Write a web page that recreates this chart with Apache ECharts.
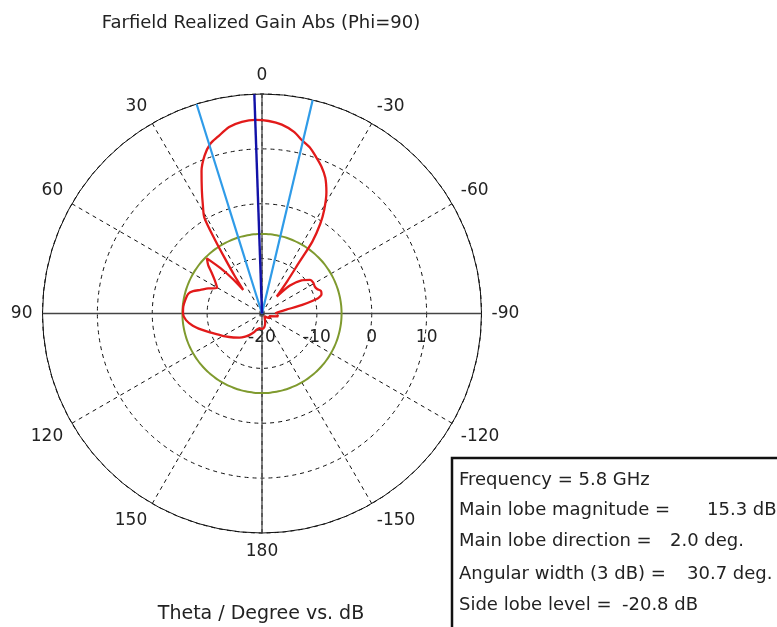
<!DOCTYPE html>
<html><head><meta charset="utf-8">
<script src="https://cdn.jsdelivr.net/npm/echarts@6/dist/echarts.min.js"></script>
<style>html,body{margin:0;padding:0;background:#fff}#c{width:777px;height:627px}</style>
</head><body><div id="c"></div>
<script>
// Farfield realized gain (Phi=90) — theta in degrees, gain in dB
const thetaDeg = [-180,-170,-160,-150,-140,-130,-120,-110,-100,-95,-90,-85,-81,-78,-75,-72,-69,-66,-63,-59,-55,-50,-45,-41,-38,-36,-35,-33,-31,-28,-25,-22,-19,-16,-13,-10,-6,-2,2,6,10,14,17,20,23,26,28.5,31,32.5,34,36,38.5,40.5,42.5,45,48,51,55,60.5,65,69,72,75,80,85,90,95,100,105,110,116,122,130,137,144,150,156,162,170,180];
const gainDb   = [-17.2,-17.5,-18.3,-19.0,-19.3,-19.0,-18.3,-18.6,-17.0,-17.3,-17.6,-17.0,-15.5,-12.5,-9.5,-8.6,-8.5,-9.0,-9.2,-9.1,-9.3,-10.6,-12.8,-15.9,-12.5,-8.5,-4.0,-0.5,2.0,5.0,7.3,8.9,10.2,11.5,12.4,13.6,14.6,15.1,15.3,15.1,14.5,13.2,12.3,10.6,8.2,5.0,2.6,0.4,-4.0,-8.0,-11.5,-14.5,-11.5,-8.8,-5.8,-6.8,-8.2,-9.5,-10.6,-9.2,-8.0,-6.8,-6.1,-5.8,-5.6,-5.6,-6.1,-7.2,-8.6,-9.9,-11.2,-12.1,-13.2,-14.0,-14.8,-15.5,-16.2,-16.9,-17.3,-17.2];
const angleTicks = [0,30,60,90,120,150,180,-150,-120,-90,-60,-30];
const radiusTicks = [-20,-10,0,10,20];
const frequencyGHz = 5.8;
const mainLobeMagnitude = 15.3;   // dB
const mainLobeDirection = 2.0;    // deg
const angularWidth3dB = 30.7;     // deg
const sideLobeLevel = -20.8;      // dB (relative)

const rMin = radiusTicks[0], rMax = radiusTicks[radiusTicks.length - 1];
const toAxis = t => (t < -90 ? t + 360 : t);
const pattern = thetaDeg.map((t, i) => [gainDb[i], toAxis(t)]).sort((a, b) => a[1] - b[1]);
const sllAbs = mainLobeMagnitude + sideLobeLevel;
const circle = [];
for (let a = -90; a <= 270; a += 3) circle.push([sllAbs, a]);
const ray = a => [[rMin, toAxis(a)], [rMax, toAxis(a)]];

const FONT = 'DejaVu Sans';
const chart = echarts.init(document.getElementById('c'));
const lineS = (data, color, width, z) => ({type: 'line', coordinateSystem: 'polar', data, symbol: 'none', silent: true, animation: false, z, lineStyle: {color, width}});
const txt = (x, y, text) => ({type: 'text', x, y, z: 11, style: {text, font: '18px ' + FONT, fill: '#222', textVerticalAlign: 'middle'}});

chart.setOption({
  animation: false,
  backgroundColor: '#fff',
  title: [
    {text: 'Farfield Realized Gain Abs (Phi=90)', left: 256, top: 9, textAlign: 'center', textStyle: {fontFamily: FONT, fontSize: 18, fontWeight: 'normal', color: '#222'}},
    {text: 'Theta / Degree vs. dB', left: 256, top: 600, textAlign: 'center', textStyle: {fontFamily: FONT, fontSize: 19, fontWeight: 'normal', color: '#222'}}
  ],
  polar: {center: [262, 313.5], radius: 219.5},
  angleAxis: {
    type: 'value', min: -90, max: 270, interval: 30, startAngle: 0, clockwise: false,
    axisLine: {lineStyle: {color: '#111', width: 1}},
    axisTick: {show: false},
    axisLabel: {margin: 10, fontFamily: FONT, fontSize: 17, color: '#222',
      formatter: v => { if (v === 270) return ''; const t = v > 180 ? v - 360 : v; return angleTicks.includes(t) ? String(t) : ''; }},
    splitLine: {lineStyle: {color: '#111', width: 1, type: [4, 4]}}
  },
  radiusAxis: {
    type: 'value', min: rMin, max: rMax, interval: 10,
    axisLine: {show: false}, axisTick: {show: false},
    axisLabel: {margin: -24, verticalAlign: 'middle', align: 'center', fontFamily: FONT, fontSize: 17, color: '#222',
      formatter: v => (v === rMax ? '' : String(v))},
    splitLine: {lineStyle: {color: '#111', width: 1, type: [4, 4]}}
  },
  series: [
    lineS([[rMax, -90], [rMax, 90]], '#444', 1.3, 1),
    lineS([[rMax, 0], [rMax, 180]], '#444', 1.3, 1),
    Object.assign(lineS(circle, '#7f9a2e', 2, 2), {smooth: true}),
    Object.assign(lineS(pattern, '#e21a1a', 2.3, 3), {smooth: 0.25}),
    lineS(ray(mainLobeDirection + angularWidth3dB / 2), '#2f9be8', 2.2, 4),
    lineS(ray(mainLobeDirection - angularWidth3dB / 2), '#2f9be8', 2.2, 4),
    lineS(ray(mainLobeDirection), '#1212a8', 2.4, 5)
  ],
  graphic: [
    {type: 'rect', shape: {x: 452, y: 458, width: 340, height: 200}, style: {fill: '#fff', stroke: '#111', lineWidth: 2.5}, z: 10},
    txt(459, 480, 'Frequency = ' + frequencyGHz.toFixed(1) + ' GHz'),
    txt(459, 510, 'Main lobe magnitude ='),
    txt(707, 510, mainLobeMagnitude.toFixed(1) + ' dB'),
    txt(459, 541, 'Main lobe direction ='),
    txt(670, 541, mainLobeDirection.toFixed(1) + ' deg.'),
    txt(459, 574, 'Angular width (3 dB) ='),
    txt(687, 574, angularWidth3dB.toFixed(1) + ' deg.'),
    txt(459, 605, 'Side lobe level ='),
    txt(622, 605, sideLobeLevel.toFixed(1) + ' dB')
  ]
});
</script>
</body></html>
